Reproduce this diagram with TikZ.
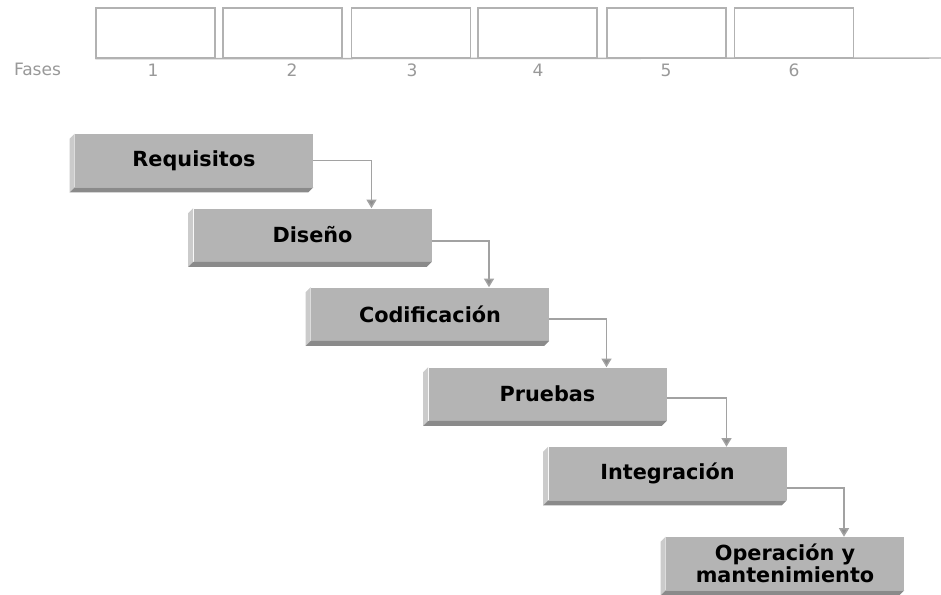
\documentclass[tikz,border=0pt]{standalone}
\usepackage{fontspec}
\setmainfont{DejaVu Sans}
\usetikzlibrary{arrows.meta}

\definecolor{facegray}{HTML}{B4B4B4}
\definecolor{sidegray}{HTML}{CBCBCB}
\definecolor{basegray}{HTML}{8A8A8A}
\definecolor{linegray}{HTML}{A2A2A2}
\definecolor{tipgray}{HTML}{8E8E8E}
\definecolor{framegray}{HTML}{B2B2B2}
\definecolor{labelgray}{HTML}{999999}

\tikzset{
  phasebox/.style={draw=framegray, line width=1.1pt, minimum width=89.25pt,
    minimum height=37.5pt, inner sep=0pt},
  phaselabel/.style={text=labelgray, font=\fontsize{12.8}{14}\selectfont,
    anchor=base, inner sep=0pt},
  stage/.style={fill=facegray, minimum width=178.5pt, minimum height=39.75pt,
    inner sep=0pt, align=center, text=black,
    font=\bfseries\fontsize{15.6}{16.5}\selectfont},
  sideface/.style={fill=sidegray},
  baseface/.style={fill=basegray},
  flow/.style={draw=linegray, line width=1.1pt,
    -{Triangle[width=7.5pt,length=6.5pt,fill=tipgray]}},
}

\begin{document}
\begin{tikzpicture}[x=0.75pt, y=-0.75pt]
  \useasboundingbox (0,0) rectangle (941,594);
  \fill[white] (0,0) rectangle (941,594);

  % phase strip
  \node[phasebox] (p1) at (155.5,33) {};
  \node[phasebox] (p2) at (282.5,33) {};
  \node[phasebox] (p3) at (411,33) {};
  \node[phasebox] (p4) at (537.5,33) {};
  \node[phasebox] (p5) at (666.5,33) {};
  \node[phasebox] (p6) at (794,33) {};
  \coordinate (axisend) at (941,58);
  \draw[draw=framegray, line width=1.1pt] (p1.south west) -- (axisend);

  \node[phaselabel] (fases) at (37.5,75) {Fases};
  \node[phaselabel] (n1) at (153,76) {1};
  \node[phaselabel] (n2) at (292,76) {2};
  \node[phaselabel] (n3) at (412,76) {3};
  \node[phaselabel] (n4) at (538,76) {4};
  \node[phaselabel] (n5) at (666,76) {5};
  \node[phaselabel] (n6) at (794,76) {6};

  % waterfall stages
  \node[stage] (req) at (194,160.5) {Requisitos};
  \node[stage] (dis) at (312.5,235) {Diseño};
  \node[stage] (cod) at (430,314) {Codificación};
  \node[stage] (pru) at (547.5,394) {Pruebas};
  \node[stage] (int) at (667.5,473.5) {Integración};
  \node[stage] (ope) at (785,563.5) {Operación y\\mantenimiento};

  % bevelled left and bottom sides of each stage
  \foreach \n in {req,dis,cod,pru,int,ope}{
    \fill[sideface] (\n.north west) -- (\n.south west)
      -- ([xshift=-3.75pt,yshift=-3.75pt]\n.south west)
      -- ([xshift=-3.75pt,yshift=-3.75pt]\n.north west) -- cycle;
    \fill[baseface] (\n.south west) -- (\n.south east)
      -- ([xshift=-3.75pt,yshift=-3.75pt]\n.south east)
      -- ([xshift=-3.75pt,yshift=-3.75pt]\n.south west) -- cycle;
  }

  % connectors between stages
  \draw[flow] (req.east) -| ([xshift=44.25pt]dis.north);
  \draw[flow] ([yshift=-4.5pt]dis.east) -| ([xshift=44.25pt]cod.north);
  \draw[flow] ([yshift=-3.75pt]cod.east) -| ([xshift=44.25pt]pru.north);
  \draw[flow] ([yshift=-3pt]pru.east) -| ([xshift=44.25pt]int.north);
  \draw[flow] ([yshift=-10.9pt]int.east) -| ([xshift=44.25pt]ope.north);
\end{tikzpicture}
\end{document}
